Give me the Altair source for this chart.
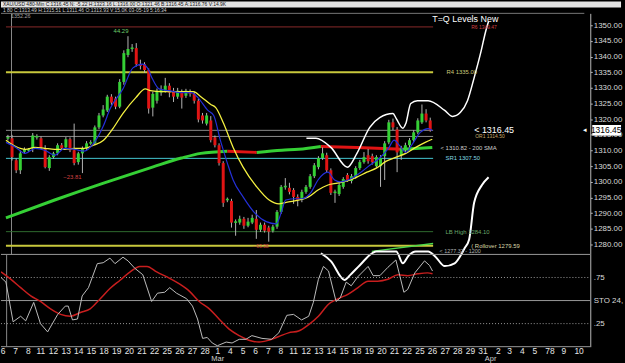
import altair as alt
import pandas as pd

# ---------------- data ----------------
# 480-min candles, bar index 1..103 (3 bars per trading day, Feb 6 -> Mar 26)
opens = [1314.2, 1313.9, 1306.9, 1303.7, 1309.6, 1310.4, 1310.7, 1314.6, 1313.9, 1310.4,
         1304.4, 1307.9, 1309.1, 1311.7, 1311.0, 1313.6, 1310.1, 1306.3, 1309.1, 1310.7,
         1312.3, 1312.3, 1317.4, 1321.2, 1322.8, 1327.2, 1326.6, 1324.0, 1331.9, 1340.5,
         1342.4, 1342.7, 1337.6, 1337.6, 1335.7, 1323.7, 1325.9, 1328.5, 1329.1, 1330.7,
         1329.1, 1327.2, 1328.5, 1327.5, 1328.8, 1328.1, 1325.9, 1321.2, 1318.6, 1319.6,
         1314.2, 1311.7, 1306.0, 1294.2, 1293.9, 1287.0, 1287.0, 1288.2, 1286.0, 1287.0,
         1288.2, 1284.7, 1286.3, 1285.4, 1284.4, 1285.7, 1290.4, 1298.4, 1298.1, 1297.4,
         1295.2, 1294.2, 1296.8, 1298.4, 1301.8, 1304.7, 1307.6, 1308.5, 1303.7, 1296.5,
         1296.1, 1298.4, 1302.2, 1300.3, 1301.5, 1304.4, 1306.3, 1308.5, 1308.2, 1305.0,
         1305.0, 1308.2, 1312.6, 1319.0, 1316.7, 1308.5, 1310.1, 1311.7, 1313.3, 1315.8,
         1319.0, 1321.8, 1319.6]
highs = [1315.0, 1315.0, 1307.5, 1310.0, 1311.0, 1310.8, 1315.6, 1315.2, 1314.5, 1311.7,
         1308.5, 1309.6, 1312.3, 1312.4, 1314.3, 1314.2, 1318.6, 1309.6, 1311.3, 1313.0,
         1313.3, 1318.0, 1322.0, 1324.5, 1327.8, 1328.0, 1327.2, 1332.8, 1342.0, 1346.5,
         1344.0, 1344.3, 1339.0, 1338.2, 1336.2, 1328.8, 1329.8, 1330.8, 1333.2, 1331.5,
         1330.0, 1330.0, 1329.5, 1329.7, 1329.5, 1328.8, 1326.5, 1322.0, 1322.0, 1321.0,
         1314.8, 1312.3, 1306.6, 1295.0, 1294.6, 1288.0, 1289.2, 1288.8, 1288.5, 1289.5,
         1291.0, 1287.0, 1287.0, 1286.0, 1286.3, 1291.0, 1299.0, 1301.2, 1299.7, 1298.0,
         1296.0, 1297.5, 1299.0, 1302.5, 1306.0, 1308.2, 1311.0, 1309.3, 1304.3, 1297.5,
         1299.6, 1301.5, 1302.8, 1302.5, 1305.0, 1307.0, 1309.5, 1310.5, 1309.0, 1308.5,
         1308.5, 1313.0, 1319.8, 1320.2, 1317.5, 1311.5, 1312.5, 1314.0, 1316.5, 1320.3,
         1324.7, 1323.2, 1320.5]
lows = [1313.2, 1306.8, 1302.8, 1302.5, 1309.0, 1309.5, 1309.5, 1313.5, 1310.5, 1304.3,
        1303.5, 1307.4, 1308.5, 1310.2, 1310.5, 1309.5, 1305.3, 1305.5, 1302.8, 1310.2,
        1311.8, 1311.8, 1316.8, 1320.6, 1322.3, 1324.6, 1323.2, 1323.5, 1331.0, 1339.8,
        1341.5, 1336.8, 1335.9, 1334.8, 1321.8, 1320.9, 1325.0, 1327.5, 1328.5, 1327.0,
        1325.5, 1326.5, 1323.4, 1326.8, 1327.2, 1325.0, 1319.0, 1318.6, 1318.0, 1312.6,
        1311.0, 1305.2, 1292.0, 1293.5, 1285.4, 1282.8, 1286.3, 1285.0, 1285.5, 1286.5,
        1281.8, 1284.0, 1283.8, 1280.9, 1283.8, 1285.0, 1289.8, 1297.5, 1296.0, 1293.0,
        1292.2, 1293.5, 1296.2, 1297.8, 1301.2, 1304.0, 1307.0, 1303.0, 1295.8, 1293.3,
        1295.5, 1297.8, 1300.0, 1299.5, 1301.0, 1303.8, 1305.8, 1305.8, 1305.5, 1304.5,
        1298.4, 1300.6, 1312.0, 1316.5, 1303.1, 1307.0, 1309.5, 1311.0, 1312.8, 1315.2,
        1318.5, 1319.0, 1316.0]
closes = [1313.9, 1307.9, 1303.7, 1309.1, 1310.4, 1310.0, 1314.8, 1314.2, 1311.0, 1304.7,
          1307.9, 1309.1, 1311.7, 1310.8, 1313.6, 1310.1, 1306.0, 1309.1, 1310.7, 1312.3,
          1312.6, 1317.4, 1321.2, 1323.1, 1327.2, 1325.3, 1324.0, 1331.9, 1341.1, 1342.4,
          1342.9, 1337.6, 1337.0, 1335.7, 1323.4, 1328.1, 1329.1, 1329.4, 1330.7, 1328.5,
          1327.2, 1329.1, 1326.9, 1329.1, 1328.1, 1325.9, 1319.9, 1319.6, 1321.2, 1313.3,
          1311.7, 1306.0, 1293.3, 1294.5, 1287.0, 1287.3, 1288.2, 1286.0, 1287.3, 1288.5,
          1284.7, 1286.3, 1284.4, 1284.1, 1285.7, 1290.4, 1298.4, 1298.6, 1296.8, 1295.2,
          1294.2, 1296.8, 1298.4, 1301.8, 1305.3, 1307.6, 1309.1, 1303.7, 1296.5, 1296.8,
          1299.0, 1300.9, 1300.6, 1301.8, 1304.4, 1306.3, 1307.9, 1306.6, 1306.3, 1307.9,
          1307.6, 1312.3, 1319.0, 1317.4, 1309.4, 1310.7, 1311.7, 1313.3, 1315.8, 1319.6,
          1321.8, 1319.6, 1316.45]

# fast (blue) and slow (yellow) moving averages, read at bar positions
blue_b = [0.53, 2.9, 5.2, 7.6, 9.9, 12.3, 14.7, 17.0, 19.4, 21.7, 24.1, 25.7, 28.8, 31.2,
          33.5, 34.7, 35.9, 37.5, 39.9, 42.9, 45.3, 46.9, 49.3, 50.7, 52.3, 54.0, 55.4,
          57.8, 60.6, 63.4, 65.8, 67.0, 68.1, 70.5, 71.9, 74.3, 75.9, 78.3, 79.9, 81.3,
          83.7, 86.0, 88.4, 90.8, 92.9, 94.3, 95.5, 97.1, 98.8, 100.6, 102.5, 103.5]
blue_v = [1312.6, 1311.0, 1309.1, 1310.7, 1310.1, 1308.5, 1310.7, 1310.4, 1309.8, 1312.3,
          1318.0, 1323.4, 1329.7, 1336.4, 1337.6, 1336.4, 1332.9, 1329.7, 1329.1, 1328.5,
          1328.5, 1326.9, 1322.8, 1321.2, 1313.3, 1306.0, 1300.6, 1295.2, 1290.1, 1287.3,
          1286.6, 1290.1, 1294.2, 1294.6, 1294.6, 1296.8, 1300.6, 1303.1, 1300.6, 1300.0,
          1300.9, 1302.8, 1305.3, 1307.6, 1310.7, 1313.3, 1311.7, 1309.4, 1312.3, 1315.8,
          1317.0, 1316.4]
yellow_b = [0.53, 2.9, 5.2, 7.6, 9.9, 12.3, 14.7, 17.0, 19.4, 21.7, 24.1, 26.4, 28.8,
            31.9, 34.2, 35.4, 38.2, 42.9, 45.8, 47.6, 50.0, 51.2, 53.1, 55.4, 57.8, 61.1,
            64.1, 66.5, 68.8, 71.2, 73.6, 75.9, 78.3, 80.6, 83.0, 85.3, 87.7, 90.0, 92.4,
            94.8, 97.1, 99.5, 101.8, 103.5]
yellow_v = [1313.3, 1311.3, 1310.4, 1311.0, 1310.7, 1310.4, 1310.4, 1310.7, 1310.7, 1311.7,
            1313.3, 1317.1, 1321.9, 1326.9, 1329.7, 1329.1, 1328.8, 1328.8, 1328.8, 1327.2,
            1324.7, 1323.7, 1318.6, 1311.0, 1304.7, 1298.4, 1294.2, 1293.0, 1293.6, 1294.2,
            1295.2, 1297.4, 1299.0, 1299.6, 1300.3, 1301.5, 1303.1, 1304.4, 1306.6, 1307.9,
            1309.1, 1311.0, 1312.6, 1313.6]
# 200 SMA
sma_b = [0.53, 12.3, 24.1, 35.9, 42.9, 47.6, 54.0, 61.1, 67.2, 71.2, 76.6, 85.3, 96.4, 103.5]
sma_v = [1288.5, 1294.2, 1299.6, 1304.7, 1307.6, 1309.1, 1309.8, 1309.4, 1310.1, 1310.4,
         1311.3, 1311.0, 1310.4, 1311.0]
sma_red_spans = [(54.0, 61.1), (76.6, 96.4)]

# projection envelope (white) and rising green channel line
env_up_b = [73.1, 75.4, 79.0, 83.0, 85.3, 88.4, 90.8, 94.0, 94.8, 96.4, 97.1, 98.3, 99.9,
            102.5, 106.5, 108.4, 110.3, 112.0, 113.6, 115.3, 116.4, 117.1]
env_up_v = [1313.9, 1313.9, 1311.0, 1304.7, 1309.1, 1317.4, 1320.5, 1321.8, 1320.2, 1317.1,
            1318.6, 1325.0, 1325.9, 1325.9, 1322.8, 1320.9, 1322.2, 1325.9, 1333.2, 1341.8,
            1348.1, 1351.3]
env_lo_b = [76.6, 79.0, 82.3, 83.7, 86.0, 90.0, 94.8, 96.4, 97.8, 99.5, 102.5, 104.2, 106.5,
            108.9, 111.3, 112.4, 113.6, 115.5, 117.1]
env_lo_v = [1277.2, 1274.7, 1268.7, 1270.3, 1273.4, 1277.8, 1277.8, 1274.0, 1276.5, 1277.8,
            1277.8, 1276.2, 1273.1, 1274.0, 1278.8, 1281.6, 1293.3, 1299.0, 1301.5]
chan_b = [88.9, 103.7]
chan_v = [1277.8, 1280.3]

# horizontal levels
level_names = ["R6", "R4", "last", "OR1", "SR1", "LB High", "Rollover"]
level_prices = [1349.47, 1335.00, 1316.45, 1314.50, 1307.50, 1284.10, 1279.59]

# stochastic (%K grey, %D red)
stk_b = [0.53, 1.7, 3.4, 5.2, 6.4, 8.3, 9.9, 11.6, 14.0, 15.8, 16.5, 17.5, 18.7, 19.8, 21.3,
         23.4, 24.8, 26.4, 27.6, 29.5, 30.7, 32.3, 34.2, 36.3, 37.7, 39.4, 40.6, 42.2, 44.6,
         46.0, 47.2, 48.4, 49.5, 50.7, 51.9, 54.0, 55.4, 57.1, 58.7, 60.1, 62.5, 64.8, 66.5,
         68.4, 70.0, 71.9, 73.6, 74.7, 75.9, 77.1, 78.3, 80.1, 81.1, 82.5, 83.7, 85.3, 87.7,
         88.9, 90.5, 92.4, 94.3, 96.2, 97.1, 98.8, 101.1, 102.3, 103.0]
stk_v = [75, 70, 27, 33, 28, 48, 25, 16, 35, 44, 44, 29, 30, 55, 64, 90, 91, 96, 90, 97, 93,
         85, 78, 49, 58, 59, 64, 58, 52, 44, 30, 9, 10, 4, 1, 5, 4, 8, 8, 12, 9, 8, 15, 34,
         35, 29, 33, 48, 73, 87, 82, 49, 53, 70, 66, 76, 87, 77, 77, 86, 94, 59, 62, 80, 93,
         88, 82]
std_b = [0.53, 2.9, 5.2, 7.6, 9.9, 12.3, 14.7, 17.0, 19.4, 21.7, 24.1, 26.4, 28.8, 31.2, 33.5,
         35.2, 37.5, 40.6, 42.9, 45.3, 47.6, 50.0, 52.3, 54.7, 57.1, 59.4, 61.8, 64.1, 66.5,
         68.8, 71.2, 73.6, 75.9, 78.3, 80.6, 83.0, 85.3, 87.7, 90.0, 92.4, 94.8, 97.1, 99.5,
         101.8, 103.0]
std_v = [81, 73, 64, 55, 49, 41, 35, 33, 37, 41, 52, 63, 72, 81, 87, 87, 81, 74, 68, 60, 49,
         41, 30, 19, 12, 7, 5, 7, 11, 15, 17, 24, 33, 46, 52, 57, 64, 71, 71, 73, 78, 77, 79,
         80, 79]

# date axis labels
day_labels = ["6", "7", "8", "11", "12", "13", "14", "15", "18", "19", "20", "21", "22", "25",
              "26", "27", "28", "1", "4", "5", "6", "7", "8", "11", "12", "13", "14", "15",
              "18", "19", "20", "21", "22", "25", "26",
              "27", "28", "29", "31", "2", "3", "4", "5", "78", "9", "10"]
day_slots = list(range(35)) + [35, 36, 37, 38, 39.2, 40.1, 41.1, 42.1, 43.3, 44.4, 45.6]
month_labels = ["Mar", "Apr"]
month_slots = [17, 38.6]

# ---------------- layout ----------------
W, H1, H2 = 594, 243, 93
FONT = "Liberation Sans"
XS = alt.Scale(domain=[0.529, 140.46], nice=False, zero=False)
PS = alt.Scale(domain=[1276.83, 1353.8], nice=False, zero=False)
SS = alt.Scale(domain=[0, 100], nice=False, zero=False)
PAX = alt.Axis(orient="right", values=list(range(1280, 1351, 5)), format=".2f",
               labelColor="#d8d8d8", labelFont=FONT, labelFontSize=8, tickColor="#bbbbbb",
               tickSize=2, domainColor="#bbbbbb", grid=False, title=None, labelPadding=1)
SAX = alt.Axis(orient="right", values=[25, 50, 75],
               labelExpr="datum.value == 50 ? 'STO  24,' : '.' + datum.value",
               labelColor="#d8d8d8", labelFont=FONT, labelFontSize=8, tickSize=0,
               domainColor="#bbbbbb", grid=False, title=None, labelPadding=3)


def X(f="b"):
    return alt.X(f"{f}:Q", scale=XS, axis=None)


def YP(f):
    return alt.Y(f"{f}:Q", scale=PS, axis=PAX)


def YS(f):
    return alt.Y(f"{f}:Q", scale=SS, axis=SAX)


# candles table
rows = []
for i, (o, h, l, c) in enumerate(zip(opens, highs, lows, closes)):
    top, bot = max(o, c), min(o, c)
    if top - bot < 0.45:
        mid = (top + bot) / 2
        top, bot = mid + 0.25, mid - 0.25
        kind = "doji"
    else:
        kind = "up" if c > o else "down"
    rows.append(dict(b=i + 1, o=o, h=h, l=l, c=c, top=top, bot=bot, kind=kind))
cdf = pd.DataFrame(rows)

wick = alt.Chart(cdf).mark_rule(color="#b4b4b4", strokeWidth=1).encode(
    x=X(), y=YP("l"), y2=alt.Y2("h"))
body = alt.Chart(cdf).mark_bar(size=3).encode(
    x=X(), y=YP("bot"), y2=alt.Y2("top"),
    color=alt.Color("kind:N", scale=alt.Scale(domain=["up", "down", "doji"],
                                              range=["#6fe36f", "#f07a7a", "#dcdcff"]),
                    legend=None))

# levels
lvl_style = {"R6": ("#8a2a2a", 1), "R4": ("#c8c83c", 2), "last": ("#8c8c8c", 1),
             "OR1": ("#8c8c8c", 1), "SR1": ("#45c8d2", 1), "LB High": ("#2f6a2f", 1),
             "Rollover": ("#c8c83c", 2)}
LINE_END = 103.7
layers = []
for name, p in zip(level_names, level_prices):
    col, sw = lvl_style[name]
    d = pd.DataFrame({"b": [0.53], "b2": [LINE_END], "p": [p]})
    layers.append(alt.Chart(d).mark_rule(color=col, strokeWidth=sw, clip=True).encode(
        x=X(), x2=alt.X2("b2"), y=YP("p")))

# 200 SMA segments
seg_rows = []
spans = [(0.0, sma_red_spans[0][0], "g")]
for k, (a, bb) in enumerate(sma_red_spans):
    spans.append((a, bb, "r"))
    nxt = sma_red_spans[k + 1][0] if k + 1 < len(sma_red_spans) else 999
    spans.append((bb, nxt, "g"))
for si, (a, bb, col) in enumerate(spans):
    for b, v in zip(sma_b, sma_v):
        if a - 1e-9 <= b <= bb + 1e-9:
            seg_rows.append(dict(b=b, p=v, seg=si, col=col))
sdf = pd.DataFrame(seg_rows)
sma = alt.Chart(sdf).mark_line(strokeWidth=3, interpolate="monotone", clip=True).encode(
    x=X(), y=YP("p"), detail="seg:N",
    color=alt.Color("col:N", scale=alt.Scale(domain=["g", "r"], range=["#35d035", "#e01414"]),
                    legend=None))

blue = alt.Chart(pd.DataFrame({"b": blue_b, "p": blue_v})).mark_line(
    color="#2430d8", strokeWidth=1.2, interpolate="monotone", clip=True).encode(x=X(), y=YP("p"))
yellow = alt.Chart(pd.DataFrame({"b": yellow_b, "p": yellow_v})).mark_line(
    color="#f4f040", strokeWidth=1.3, interpolate="monotone", clip=True).encode(x=X(), y=YP("p"))
env_up = alt.Chart(pd.DataFrame({"b": env_up_b, "p": env_up_v})).mark_line(
    color="#ffffff", strokeWidth=1.5, interpolate="monotone").encode(x=X(), y=YP("p"))
env_lo = alt.Chart(pd.DataFrame({"b": env_lo_b, "p": env_lo_v})).mark_line(
    color="#ffffff", strokeWidth=2, interpolate="monotone").encode(x=X(), y=YP("p"))
chan = alt.Chart(pd.DataFrame({"b": chan_b, "p": chan_v})).mark_line(
    color="#4cd84c", strokeWidth=1.5).encode(x=X(), y=YP("p"))

one = pd.DataFrame({"a": [0]})


def txt(text, px, py, color, size, align="left", weight="normal"):
    return alt.Chart(one).mark_text(text=text, align=align, baseline="middle", font=FONT,
                                    fontSize=size, color=color, fontWeight=weight).encode(
        x=alt.value(px), y=alt.value(py))


def ptxt(text, px, price, color, size, align="left", weight="normal"):
    return alt.Chart(pd.DataFrame({"p": [price]})).mark_text(
        text=text, align=align, baseline="middle", font=FONT, fontSize=size, color=color,
        fontWeight=weight).encode(x=alt.value(px), y=YP("p"))


vline_top = alt.Chart(pd.DataFrame({"b": [1.87]})).mark_rule(color="#8a8a8a").encode(
    x=X(), y=alt.value(0), y2=alt.value(H1))
top_border = alt.Chart(one).mark_rule(color="#777777").encode(
    x=alt.value(0), x2=alt.value(588), y=alt.value(0))
titlebar = alt.Chart(one).mark_rect(color="#e4e4e4").encode(
    x=alt.value(0), x2=alt.value(625), y=alt.value(-12), y2=alt.value(-6))

last = level_prices[level_names.index("last")]
pbox = alt.Chart(pd.DataFrame({"p": [last - 1.7], "p2": [last + 1.7]})).mark_rect(
    color="#ffffff").encode(x=alt.value(596), x2=alt.value(625), y=YP("p"), y2=alt.Y2("p2"))

annots = [
    titlebar,
    txt("XAU/USD 480-Min C:1316.45 N: -5.22 H:1323.16 L:1316.00 O:1321.46 B:1316.45 A:1316.76 V:14.9K",
        2, -9, "#111111", 5),
    txt("1 80 C:1313.49 H:1315.51 L:1311.46 O:1313.93 V:15.0K 03-05-19 5:16:34", 2, -3,
        "#cfcfcf", 5),
    txt("1352.26", 10, 3, "#a0a0a0", 5.5),
    top_border,
    txt("T=Q Levels New", 468, 6, "#ffffff", 9, align="center"),
    txt("44.29", 121, 18, "#6ccf6c", 6, align="center"),
    txt("\u221223.81", 72, 165, "#d04040", 6, align="center"),
    txt("\u221263.38", 262, 235, "#d04040", 5, align="center"),
    ptxt("R6 1349.47", 474, 1349.47, "#d04040", 5),
    ptxt("R4 1335.00", 449, 1335.0, "#c8c878", 6),
    ptxt("< 1316.45", 477, last, "#ffffff", 9),
    ptxt("OR1 1314.50", 478, 1314.5, "#c8a868", 5),
    ptxt("<  1310.82 - 200 SMA", 443, 1310.7, "#d0d0d0", 6),
    ptxt("SR1 1307.50", 448, 1307.5, "#80d8e0", 6),
    ptxt("LB High 1284.10", 448, 1284.1, "#6aa86a", 6),
    ptxt("( Rollover 1279.59", 474, 1279.59, "#d8d8a8", 6),
    ptxt("<  1277.32 - 1200", 442, 1277.8, "#b0b0b0", 5.5),
    pbox,
    ptxt("1316.45", 610, last, "#000000", 8.5, align="center"),
    ptxt("\u25c2", 589, last, "#ffffff", 7, align="center"),
]

top = alt.layer(vline_top, *layers, sma, wick, body, yellow, blue, chan, env_up, env_lo,
                *annots).properties(width=W, height=H1)

# ---------------- stochastic panel ----------------
grid_rows = pd.DataFrame({"s": [100, 50, 0]})
grid_dot = pd.DataFrame({"s": [75, 25]})
g1 = alt.Chart(grid_rows).mark_rule(color="#9a9a9a", strokeWidth=1).encode(
    x=alt.value(0), x2=alt.value(W), y=YS("s"))
g2 = alt.Chart(grid_dot).mark_rule(color="#9a9a9a", strokeWidth=1, strokeDash=[1, 2]).encode(
    x=alt.value(0), x2=alt.value(W), y=YS("s"))
vline_bot = alt.Chart(pd.DataFrame({"b": [1.87]})).mark_rule(color="#8a8a8a").encode(
    x=X(), y=alt.value(0), y2=alt.value(H2))
stk = alt.Chart(pd.DataFrame({"b": stk_b, "s": stk_v})).mark_line(
    color="#bdbdbd", strokeWidth=1, clip=True).encode(x=X(), y=YS("s"))
std = alt.Chart(pd.DataFrame({"b": std_b, "s": std_v})).mark_line(
    color="#c81e1e", strokeWidth=1.5, interpolate="monotone", clip=True).encode(x=X(), y=YS("s"))

ddf = pd.DataFrame({"b": [1 + 3 * s for s in day_slots], "t": day_labels})
dates = alt.Chart(ddf).mark_text(font=FONT, fontSize=8.5, color="#e6e6e6", baseline="middle").encode(
    x=X(), y=alt.value(H2 + 4.5), text="t:N")
mdf = pd.DataFrame({"b": [1 + 3 * s for s in month_slots], "t": month_labels})
months = alt.Chart(mdf).mark_text(font=FONT, fontSize=7.5, color="#d0d0d0", baseline="middle").encode(
    x=X(), y=alt.value(H2 + 12.5), text="t:N")

bottom = alt.layer(g1, g2, vline_bot, std, stk, dates, months).properties(width=W, height=H2)

chart = alt.vconcat(top, bottom, spacing=0, bounds="flush").properties(
    padding={"left": 0, "top": 0, "right": 0, "bottom": 0},
    autosize=alt.AutoSizeParams(type="pad"),
    background="#000000",
).configure_view(strokeWidth=0)

chart.save("out.html", embed_options={"renderer": "svg", "actions": False})
